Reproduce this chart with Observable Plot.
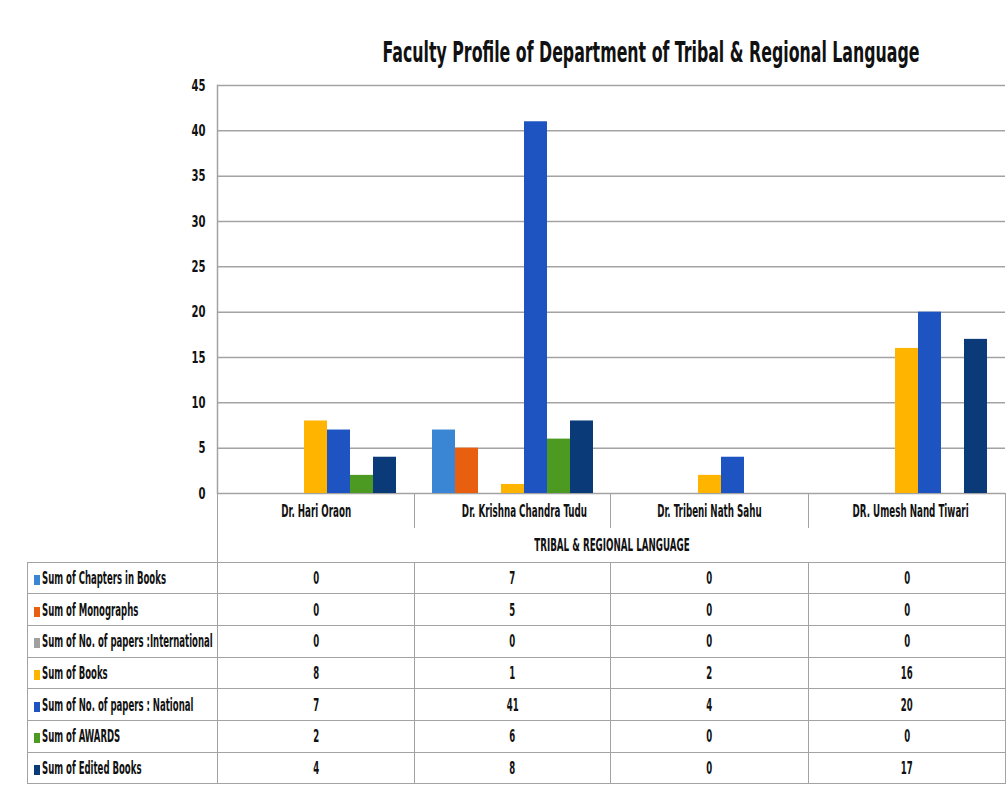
<!DOCTYPE html>
<html><head><meta charset="utf-8">
<script src="https://cdn.jsdelivr.net/npm/d3@7"></script>
<script src="https://cdn.jsdelivr.net/npm/@observablehq/plot@0.6"></script>
<style>
html,body{margin:0;padding:0;background:#fff;}
body{width:1008px;height:789px;overflow:hidden;position:relative;font-family:"Liberation Sans Narrow","DejaVu Sans Condensed","DejaVu Sans",sans-serif;font-stretch:condensed;color:#111;}
#title{position:absolute;left:651px;top:36px;white-space:nowrap;font-size:28px;font-weight:bold;transform-origin:0 0;}
#chart{position:absolute;left:0;top:0;}
#tbl{position:absolute;left:27px;top:493px;border-collapse:collapse;table-layout:fixed;width:978px;font-size:17px;font-weight:bold;}
#tbl td{padding:0;text-align:center;vertical-align:middle;white-space:nowrap;overflow:visible;}
#tbl td.b{border:1.5px solid #a3a3a3;}
#tbl td.lab{text-align:left;padding-left:6px;}
.tx{display:inline-block;transform-origin:50% 50%;}
.lab .tx{transform-origin:0 50%;}
.sw{display:inline-block;width:6px;height:10px;margin-right:2px;vertical-align:-1px;}
.hv{border-left:1.5px solid #a3a3a3;}
.hr{border-right:1.5px solid #a3a3a3;}
</style>
</head><body>
<div id="title">Faculty Profile of Department of Tribal &amp; Regional Language</div>
<div id="chart"></div>
<table id="tbl"></table>
<script>
const faculty = ["Dr. Hari Oraon", "Dr. Krishna Chandra Tudu", "Dr. Tribeni Nath Sahu", "DR. Umesh Nand Tiwari"];
const department = "TRIBAL & REGIONAL LANGUAGE";
const series = ["Sum of Chapters in Books", "Sum of Monographs", "Sum of No. of papers :International", "Sum of Books", "Sum of No. of papers : National", "Sum of AWARDS", "Sum of Edited Books"];
const colors = ["#3a86d4", "#e8600f", "#a0a0a0", "#ffb400", "#1e54c2", "#4c9a22", "#0b3a78"];
const chapters = [0, 7, 0, 0];
const monographs = [0, 5, 0, 0];
const international = [0, 0, 0, 0];
const books = [8, 1, 2, 16];
const national = [7, 41, 4, 20];
const awards = [2, 6, 0, 0];
const edited = [4, 8, 0, 17];
const yTicks = [0, 5, 10, 15, 20, 25, 30, 35, 40, 45];

const valuesBySeries = [chapters, monographs, international, books, national, awards, edited];
const rows = [];
series.forEach((s, si) => faculty.forEach((f, fi) => rows.push({series: s, faculty: f, value: valuesBySeries[si][fi]})));

const chart = Plot.plot({
  width: 1008, height: 495,
  marginLeft: 217, marginRight: 3, marginTop: 85, marginBottom: 2,
  style: {fontFamily: '"Liberation Sans Narrow","DejaVu Sans Condensed","DejaVu Sans",sans-serif', fontSize: "16px", fontWeight: "bold", color: "#111", background: "transparent", overflow: "visible"},
  fx: {domain: faculty, padding: 0, axis: null},
  x: {domain: series, paddingInner: 0, paddingOuter: 0.78, axis: null},
  y: {domain: [0, 45], axis: null},
  color: {domain: series, range: colors},
  marks: [
    Plot.gridY(yTicks, {stroke: "#a3a3a3", strokeOpacity: 1, strokeWidth: 1.5}),
    Plot.axisY(yTicks, {tickSize: 0, tickPadding: 12, fontSize: 16, label: null}),
    Plot.barY(rows.filter(d => d.value > 0), {fx: "faculty", x: "series", y: "value", fill: "series"}),
    Plot.frame({anchor: "left", stroke: "#a3a3a3", strokeWidth: 1.5, fx: () => faculty[0]})
  ]
});
document.getElementById("chart").appendChild(chart);

// condense tick labels to the reference's narrow face
chart.querySelectorAll("g[aria-label='y-axis tick label'] text").forEach(el => {
  const L = el.getComputedTextLength();
  el.setAttribute("textLength", (L * 0.7).toFixed(1));
  el.setAttribute("lengthAdjust", "spacingAndGlyphs");
});

// title width fit
const t = document.getElementById("title");
const w = t.getBoundingClientRect().width;
t.style.transform = `scaleX(${537 / w}) translateX(-50%)`;

// table
const tbl = d3.select("#tbl");
const cg = tbl.append("colgroup");
[190, 197, 196, 198, 197].forEach(wd => cg.append("col").style("width", wd + "px"));
const r1 = tbl.append("tr").style("height", "35px");
r1.append("td");
faculty.forEach((f, i) => r1.append("td").attr("class", "hv" + (i === faculty.length - 1 ? " hr" : "")).append("span").attr("class", "tx cat").text(f));
const r2 = tbl.append("tr").style("height", "34px");
r2.append("td");
r2.append("td").attr("colspan", 4).attr("class", "hv hr").append("span").attr("class", "tx cat").text(department);
series.forEach((s, si) => {
  const tr = tbl.append("tr").style("height", "31.7px");
  const lab = tr.append("td").attr("class", "b lab");
  lab.append("span").attr("class", "sw").style("background", colors[si]);
  lab.append("span").attr("class", "tx lb").text(s);
  valuesBySeries[si].forEach(v => tr.append("td").attr("class", "b").append("span").attr("class", "tx lb").text(v));
});
const catSpans = document.querySelectorAll(".tx.cat");
const kCat = 70 / catSpans[0].getBoundingClientRect().width;
catSpans.forEach(s => s.style.transform = `scaleX(${kCat})`);
const lbSpans = document.querySelectorAll(".tx.lb");
const kLb = 124 / lbSpans[0].getBoundingClientRect().width;
lbSpans.forEach(s => s.style.transform = `scaleX(${kLb})`);
</script>
</body></html>
